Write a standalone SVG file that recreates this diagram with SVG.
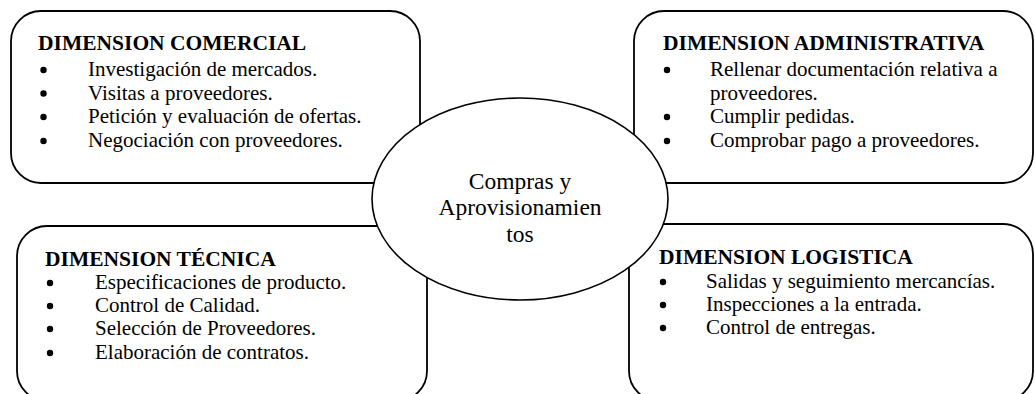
<svg xmlns="http://www.w3.org/2000/svg" width="1035" height="394" viewBox="0 0 1035 394">
  <style>
    .box { fill: #ffffff; stroke: #000000; stroke-width: 1.8; }
    .hub { fill: #ffffff; stroke: #000000; stroke-width: 1.6; }
    .title { font-family: "Liberation Serif", "Times New Roman", serif; font-size: 21.5px; font-weight: bold; fill: #000000; }
    .item { font-family: "Liberation Serif", "Times New Roman", serif; font-size: 21px; fill: #000000; }
    .hubtext { font-family: "Liberation Serif", "Times New Roman", serif; font-size: 23.5px; fill: #000000; text-anchor: middle; }
    .dot { fill: #000000; }
  </style>

  <!-- Top-left: commercial dimension -->
  <g id="dim-comercial">
    <rect class="box" x="11" y="11" width="409" height="172" rx="30" ry="30"/>
    <text class="title" x="38" y="50">DIMENSION COMERCIAL</text>
    <circle class="dot" cx="43.5" cy="70" r="3.2"/>
    <text class="item" x="88" y="76">Investigación de mercados.</text>
    <circle class="dot" cx="43.5" cy="93.5" r="3.2"/>
    <text class="item" x="88" y="99.5">Visitas a proveedores.</text>
    <circle class="dot" cx="43.5" cy="117" r="3.2"/>
    <text class="item" x="88" y="123">Petición y evaluación de ofertas.</text>
    <circle class="dot" cx="43.5" cy="141" r="3.2"/>
    <text class="item" x="88" y="147">Negociación con proveedores.</text>
  </g>

  <!-- Top-right: administrative dimension -->
  <g id="dim-administrativa">
    <rect class="box" x="634" y="11" width="399" height="172" rx="30" ry="30"/>
    <text class="title" x="663" y="50">DIMENSION ADMINISTRATIVA</text>
    <circle class="dot" cx="667" cy="70" r="3.2"/>
    <text class="item" x="710" y="76">Rellenar documentación relativa a</text>
    <text class="item" x="710" y="99.5">proveedores.</text>
    <circle class="dot" cx="667" cy="117" r="3.2"/>
    <text class="item" x="710" y="123">Cumplir pedidas.</text>
    <circle class="dot" cx="667" cy="141" r="3.2"/>
    <text class="item" x="710" y="147">Comprobar pago a proveedores.</text>
  </g>

  <!-- Bottom-left: technical dimension -->
  <g id="dim-tecnica">
    <rect class="box" x="17" y="226" width="410" height="175" rx="30" ry="30"/>
    <text class="title" x="45" y="266">DIMENSION TÉCNICA</text>
    <circle class="dot" cx="50" cy="283" r="3.2"/>
    <text class="item" x="95" y="289">Especificaciones de producto.</text>
    <circle class="dot" cx="50" cy="306" r="3.2"/>
    <text class="item" x="95" y="312">Control de Calidad.</text>
    <circle class="dot" cx="50" cy="329" r="3.2"/>
    <text class="item" x="95" y="335">Selección de Proveedores.</text>
    <circle class="dot" cx="50" cy="353" r="3.2"/>
    <text class="item" x="95" y="359">Elaboración de contratos.</text>
  </g>

  <!-- Bottom-right: logistics dimension -->
  <g id="dim-logistica">
    <rect class="box" x="629" y="224" width="404" height="177" rx="30" ry="30"/>
    <text class="title" x="659" y="264">DIMENSION LOGISTICA</text>
    <circle class="dot" cx="663" cy="282" r="3.2"/>
    <text class="item" x="706" y="288">Salidas y seguimiento mercancías.</text>
    <circle class="dot" cx="663" cy="305" r="3.2"/>
    <text class="item" x="706" y="311">Inspecciones a la entrada.</text>
    <circle class="dot" cx="663" cy="328" r="3.2"/>
    <text class="item" x="706" y="334">Control de entregas.</text>
  </g>

  <!-- No connecting lines: the hub simply overlaps the four boxes -->
  <g id="connectors"></g>

  <!-- Central hub -->
  <g id="hub">
    <ellipse class="hub" cx="520" cy="199" rx="148" ry="101"/>
    <text class="hubtext" x="520" y="189">Compras y</text>
    <text class="hubtext" x="520" y="215">Aprovisionamien</text>
    <text class="hubtext" x="520" y="242">tos</text>
  </g>
</svg>
